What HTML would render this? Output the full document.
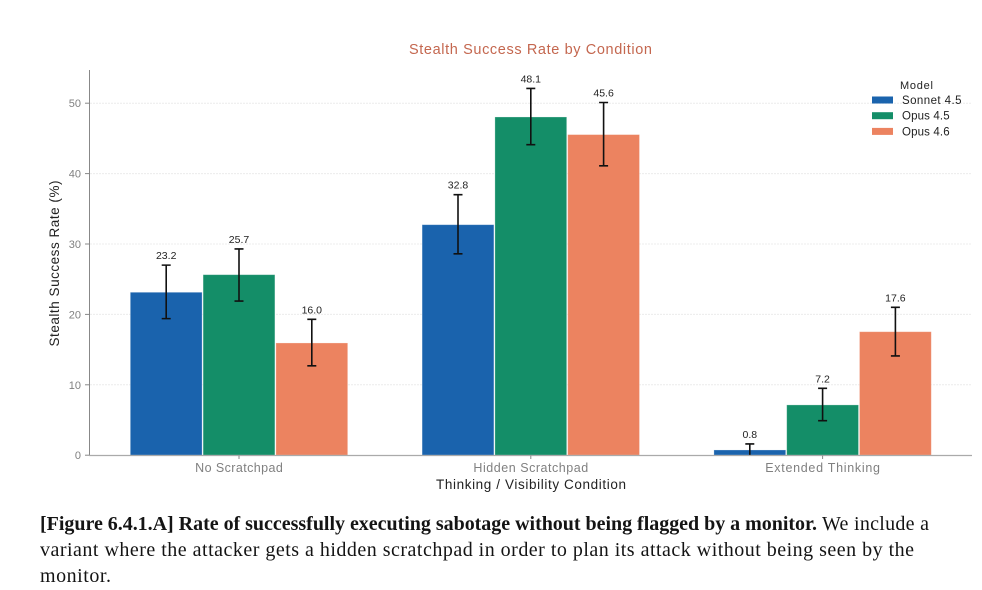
<!DOCTYPE html>
<html><head><meta charset="utf-8"><title>Stealth Success Rate by Condition</title>
<style>
html,body{margin:0;padding:0;background:#fff;width:982px;height:590px;overflow:hidden}
svg{display:block}
text{font-family:"Liberation Sans",sans-serif}
.cap{font-family:"Liberation Serif",serif;font-size:20px;fill:#141414}
</style></head>
<body>
<svg id="chart" width="982" height="590" viewBox="0 0 982 590" xmlns="http://www.w3.org/2000/svg">
<text x="530.5" y="54" text-anchor="middle" font-size="14.5" fill="#c4674f" textLength="243">Stealth Success Rate by Condition</text>
<g id="grid"></g>
<g id="bars"></g>
<g id="errs"></g>
<g id="labels"></g>
<g id="axes"></g>
<text transform="translate(59,263.5) rotate(-90)" text-anchor="middle" font-size="13.5" fill="#222" textLength="166">Stealth Success Rate (%)</text>
<text x="531" y="489" text-anchor="middle" font-size="13.5" fill="#222" textLength="190">Thinking / Visibility Condition</text>
<g id="legend">
<text x="900" y="89" font-size="11" fill="#222" textLength="33">Model</text>
</g>
<text class="cap" x="40" y="530" font-weight="bold" textLength="777">[Figure 6.4.1.A] Rate of successfully executing sabotage without being flagged by a monitor.</text>
<text class="cap" x="822" y="530" textLength="107">We include a</text>
<text class="cap" x="40" y="556" textLength="874">variant where the attacker gets a hidden scratchpad in order to plan its attack without being seen by the</text>
<text class="cap" x="40" y="582" textLength="71">monitor.</text>
</svg>
<script>
const categories = ["No Scratchpad", "Hidden Scratchpad", "Extended Thinking"];
const seriesNames = ["Sonnet 4.5", "Opus 4.5", "Opus 4.6"];
const sonnet45 = [23.2, 32.8, 0.8];
const opus45 = [25.7, 48.1, 7.2];
const opus46 = [16.0, 45.6, 17.6];
const sonnet45Low = [19.4, 28.6, 0.0];
const sonnet45High = [27.0, 37.0, 1.6];
const opus45Low = [21.9, 44.1, 4.9];
const opus45High = [29.3, 52.1, 9.5];
const opus46Low = [12.7, 41.1, 14.1];
const opus46High = [19.3, 50.1, 21.0];
const yTicks = [0, 10, 20, 30, 40, 50];

const seriesValues = [sonnet45, opus45, opus46];
const seriesLow = [sonnet45Low, opus45Low, opus46Low];
const seriesHigh = [sonnet45High, opus45High, opus46High];
const colors = ["#1a63ad", "#148e68", "#ec8360"];
const NS = "http://www.w3.org/2000/svg";
const y = v => 455.2 - v * 7.04;
const groupX = i => 239 + i * 291.8;
const BW = 72.8;
const barX = (g, s) => groupX(g) + (s - 1) * BW;
function mk(parent, tag, attrs, txt) {
  const e = document.createElementNS(NS, tag);
  for (const k in attrs) e.setAttribute(k, attrs[k]);
  if (txt !== undefined) e.textContent = txt;
  document.getElementById(parent).appendChild(e);
  return e;
}
yTicks.forEach(t => {
  if (t > 0) {
    const g = mk("grid", "line", {x1: 90, x2: 972, y1: y(t), y2: y(t), stroke: "#ececec", "stroke-width": 1, "stroke-dasharray": "2 1"});
    
    
  }
  const m = mk("axes", "line", {x1: 85, x2: 89.5, y1: y(t), y2: y(t), stroke: "#888", "stroke-width": 1});
  
  
  const l = mk("axes", "text", {x: 81, y: y(t) + 4, "text-anchor": "end", "font-size": 11, fill: "#808080"}, t);
  
  
});
seriesValues.forEach((vals, s) => {
  vals.forEach((v, g) => {
    const r = mk("bars", "rect", {x: barX(g, s) - BW / 2 + 0.5, y: y(v) + 0.4, width: BW - 1, height: y(0) - y(v) - 0.4, fill: colors[s], stroke: "#fff", "stroke-opacity": 0.35, "stroke-width": 0.8});
    
    
    const cx = barX(g, s);
    const hi = seriesHigh[s][g], lo = seriesLow[s][g];
    const e = mk("errs", "path", {d: `M${cx} ${y(hi)}V${y(lo)}M${cx - 4.5} ${y(hi)}H${cx + 4.5}` + (lo > 0 ? `M${cx - 4.5} ${y(lo)}H${cx + 4.5}` : ""), stroke: "#111", "stroke-width": 1.6, fill: "none"});
    
    
    const t = mk("labels", "text", {x: cx, y: y(hi) - 6, "text-anchor": "middle", "font-size": 10.5, fill: "#222"}, v.toFixed(1));
    
    
  });
});
const spineL = mk("axes", "line", {x1: 89.5, x2: 89.5, y1: 70, y2: 455.5, stroke: "#888", "stroke-width": 1});


const spineB = mk("axes", "line", {x1: 89, x2: 972, y1: 455.5, y2: 455.5, stroke: "#aaa", "stroke-width": 1.2});


categories.forEach((c, i) => {
  const m = mk("axes", "line", {x1: groupX(i), x2: groupX(i), y1: 455.5, y2: 459, stroke: "#888", "stroke-width": 1});
  
  
  const t = mk("axes", "text", {x: groupX(i), y: 472, "text-anchor": "middle", "font-size": 12.5, fill: "#808080", textLength: c.length * 6.75}, c);
  
  
});
seriesNames.forEach((n, i) => {
  const ly = 100 + i * 15.7;
  const r = mk("legend", "rect", {x: 872, y: ly - 3.5, width: 21, height: 7, fill: colors[i]});
  
  
  const t = mk("legend", "text", {x: 902, y: ly + 4, "font-size": 11.5, fill: "#222", textLength: n.length * 5.95}, n);
  
  
});
</script>
</body></html>
